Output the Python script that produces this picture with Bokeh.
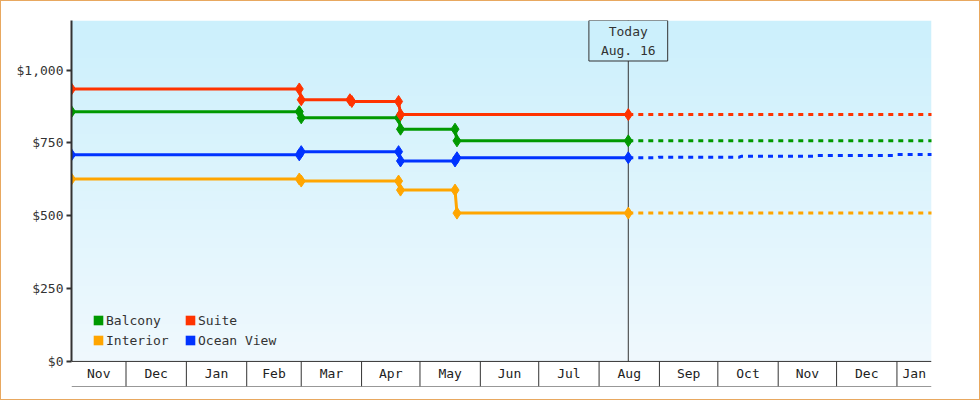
import numpy as np
import pandas as pd
from bokeh.plotting import figure
from bokeh.layouts import column
from bokeh.models import (ColumnDataSource, Range1d, FixedTicker, NumeralTickFormatter,
                          Span, Label, Legend, LegendItem)
from bokeh.core.properties import value
from bokeh.embed import file_html
from bokeh.resources import INLINE

FONT = "DejaVu Sans Mono"

# fares seen so far (solid line, one point per observation)
balcony_dates = ["2022-11-03", "2023-02-28", "2023-03-01", "2023-04-20", "2023-04-21",
                 "2023-05-19", "2023-05-20", "2023-08-16"]
balcony_prices = [857, 857, 836, 836, 797, 797, 757, 757]

suite_dates = ["2022-11-03", "2023-02-28", "2023-03-01", "2023-03-26", "2023-03-27",
               "2023-04-20", "2023-04-21", "2023-08-16"]
suite_prices = [935, 935, 898, 898, 892, 892, 847, 847]

interior_dates = ["2022-11-03", "2023-02-28", "2023-03-01", "2023-04-20", "2023-04-21",
                  "2023-05-19", "2023-05-20", "2023-08-16"]
interior_prices = [626, 626, 619, 619, 588, 588, 509, 509]

ocean_dates = ["2022-11-03", "2023-02-28", "2023-03-01", "2023-04-20", "2023-04-21",
               "2023-05-19", "2023-05-20", "2023-08-16"]
ocean_prices = [709, 709, 720, 720, 688, 688, 699, 699]

# projected fares (dashed)
balcony_fc_dates = ["2023-08-16", "2024-01-20"]
balcony_fc_prices = [757, 757]
suite_fc_dates = ["2023-08-16", "2024-01-20"]
suite_fc_prices = [847, 847]
interior_fc_dates = ["2023-08-16", "2024-01-20"]
interior_fc_prices = [509, 509]
ocean_fc_dates = ["2023-08-16", "2023-08-31", "2023-09-01", "2023-10-12", "2023-10-13",
                  "2023-11-20", "2023-11-21", "2023-12-31", "2024-01-01", "2024-01-20"]
ocean_fc_prices = [699, 699, 701, 701, 704, 704, 707, 707, 710, 710]

month_labels = ["Nov", "Dec", "Jan", "Feb", "Mar", "Apr", "May", "Jun", "Jul",
                "Aug", "Sep", "Oct", "Nov", "Dec", "Jan"]
y_ticks = [0, 250, 500, 750, 1000]

X0 = pd.Timestamp("2022-11-03")
X1 = pd.Timestamp("2024-01-18 18:00")
TODAY = pd.Timestamp("2023-08-16")
Y_MAX = 1170
PLOT_PX = 340          # height of the price area
BAND_PX = 25           # height of the month strip under it
BAND = BAND_PX * Y_MAX / PLOT_PX


def ms(t):
    return pd.Timestamp(t).value / 1e6


p = figure(width=978, height=398, x_axis_type="datetime",
           x_range=Range1d(ms(X0), ms(X1)), y_range=Range1d(-BAND, Y_MAX),
           x_axis_location=None, output_backend="svg", toolbar_location=None, tools="",
           min_border_left=70, min_border_right=48, min_border_top=19, min_border_bottom=13)
p.grid.visible = False
p.outline_line_color = None
p.background_fill_color = "white"
p.border_fill_color = "white"

# vertical gradient behind the price area
n = 170
top_c = np.array([204, 240, 252])
bot_c = np.array([240, 249, 254])
t = np.linspace(0, 1, n)[:, None]
rgb = bot_c + (top_c - bot_c) * t
img = np.empty((n, 1), dtype=np.uint32)
view = img.view(dtype=np.uint8).reshape((n, 1, 4))
view[:, :, 0] = rgb[:, 0:1]
view[:, :, 1] = rgb[:, 1:2]
view[:, :, 2] = rgb[:, 2:3]
view[:, :, 3] = 255
p.image_rgba(image=[img], x=ms(X0), y=0, dw=ms(X1) - ms(X0), dh=Y_MAX)

series = [
    ("Balcony", "#009900", balcony_dates, balcony_prices, balcony_fc_dates, balcony_fc_prices),
    ("Suite", "#ff3300", suite_dates, suite_prices, suite_fc_dates, suite_fc_prices),
    ("Interior", "#ffa500", interior_dates, interior_prices, interior_fc_dates, interior_fc_prices),
    ("Ocean View", "#0033ff", ocean_dates, ocean_prices, ocean_fc_dates, ocean_fc_prices),
]

# today marker line, price area only
p.segment(x0=[ms(TODAY)], y0=[0], x1=[ms(TODAY)], y1=[Y_MAX], line_color="#333333",
          line_width=1)

items = []
for name, color, d, v, fd, fv in series:
    src = ColumnDataSource(dict(x=pd.to_datetime(d), y=v))
    fsrc = ColumnDataSource(dict(x=pd.to_datetime(fd), y=fv))
    p.line("x", "y", source=fsrc, line_color=color, line_width=3, line_dash="5 5")
    p.line("x", "y", source=src, line_color=color, line_width=3)
    p.scatter("x", "y", source=src, marker="diamond", size=12,
              fill_color=color, line_color=color)
    # legend swatch only, nothing drawn in the plot
    proxy = p.quad(left=[np.nan], right=[np.nan], top=[np.nan], bottom=[np.nan],
                   fill_color=color, line_color=None)
    items.append(LegendItem(label=name, renderers=[proxy]))

p.add_layout(Label(x=ms(TODAY), y=Y_MAX, text="Today\nAug. 16", text_align="center",
                   text_baseline="top", text_font=FONT, text_font_size="13px",
                   text_color="#333333", text_line_height=1.3,
                   background_fill_color="#ccf0fc", border_line_color="#333333",
                   padding=dict(left=12, right=12, top=3, bottom=3)))

legend = Legend(items=items, location=(21, BAND_PX + 12), orientation="horizontal", ncols=2,
                background_fill_alpha=0, border_line_color=None, padding=0, margin=0,
                spacing=2, glyph_width=12, glyph_height=12, label_standoff=2,
                label_width=76, label_height=18, label_text_font=FONT,
                label_text_font_size="13px", label_text_color="#333333")
p.add_layout(legend)

ax = p.yaxis[0]
ax.bounds = (0, Y_MAX)
ax.ticker = FixedTicker(ticks=y_ticks)
ax.formatter = NumeralTickFormatter(format="$0,0")
ax.axis_line_color = "#333333"
ax.axis_line_width = 2
ax.major_tick_line_color = "#333333"
ax.major_tick_line_width = 2
ax.major_tick_in = 0
ax.major_tick_out = 5
ax.minor_tick_line_color = None
ax.major_label_standoff = 3
ax.major_label_text_font = FONT
ax.major_label_text_font_size = "13px"
ax.major_label_text_color = "#333333"

# month strip under the price area
starts = pd.date_range("2022-11-01", periods=len(month_labels) + 1, freq="MS")
left = np.maximum(starts[:-1].values.astype("datetime64[ms]").astype(float), ms(X0))
right = np.minimum(starts[1:].values.astype("datetime64[ms]").astype(float), ms(X1))
band_src = ColumnDataSource(dict(x=(left + right) / 2, y=[-BAND / 2] * len(month_labels),
                                 text=month_labels))
seps = [ms(s) for s in starts[1:-1]]

p.segment(x0=seps, y0=-BAND, x1=seps, y1=0, line_color="#333333", line_width=1)
p.add_layout(Span(location=0, dimension="width", line_color="#333333", line_width=1))
p.add_layout(Span(location=-BAND, dimension="width", line_color="#333333", line_width=1))
p.text("x", "y", text="text", source=band_src, text_align="center", text_baseline="middle",
       text_font=value(FONT), text_font_size="13px", text_color="#222222")

layout = column(p, styles={"border": "1px solid #e8a860"})

open("out.html", "w").write(file_html(layout, INLINE))
